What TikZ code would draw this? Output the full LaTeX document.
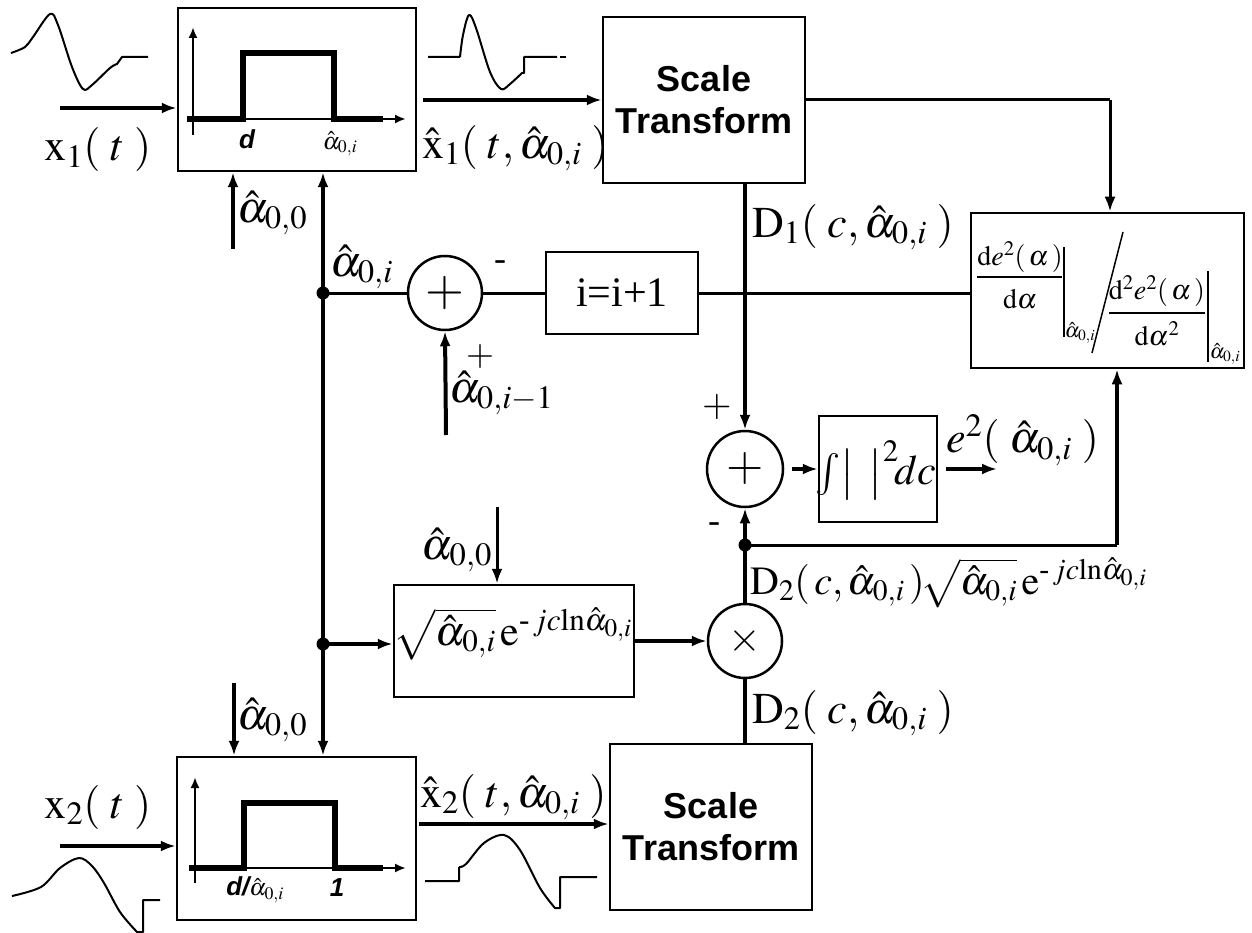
\documentclass[tikz,border=0pt]{standalone}
\usepackage{amsmath}
\usepackage{mathptmx}
\usepackage[no-math]{fontspec}
\setmainfont{Liberation Serif}
\setsansfont{Liberation Sans}
\usetikzlibrary{arrows.meta}
\newcommand{\fs}[1]{\fontsize{#1}{#1}\selectfont}
\begin{document}
\begin{tikzpicture}[x=1pt,y=-1pt,
  box/.style={draw,line width=2.5pt,inner sep=0},
  circ/.style={draw,circle,line width=2.5pt,inner sep=0},
  conn/.style={line width=3pt},
  thk/.style={line width=4pt},
  arr/.style={-{Latex[length=15pt,width=11pt]}},
  sarr/.style={-{Latex[length=11pt,width=9pt]}},
  wave/.style={line width=2pt,line join=round},
  pulse/.style={line width=6pt},
  lbl/.style={inner sep=0,font=\fs{44}},
  dlbl/.style={inner sep=0,font=\fs{28}},
  slbl/.style={inner sep=0,font=\fs{21}},
  thin/.style={line width=1.5pt},
  dotc/.style={circle,fill,inner sep=0,minimum size=13pt}]
\useasboundingbox (0,0) rectangle (1252,933);

% ---------- blocks ----------
\node[box,minimum width=238,minimum height=163] (F1) at (297,89.5) {};
\node[box,minimum width=202,minimum height=166,align=center,font=\sffamily\bfseries\fs{36}] (ST1) at (704,100) {Scale\\[6pt]Transform};
\node[box,minimum width=273,minimum height=155] (DV) at (1107.5,290.5) {};
\node[box,minimum width=152,minimum height=82,font=\fs{42}] (INC) at (622,293) {i=i+1};
\node[circ,minimum size=74,font=\fs{50}] (S1) at (445,293) {$+$};
\node[circ,minimum size=76,font=\fs{48}] (S2) at (745,469) {$+$};
\node[box,minimum width=118,minimum height=106] (INT) at (878,469) {};
\node[inner sep=0,font=\fs{42}] (INTT) at (876,470) {$\int\!\big|\;\,\big|^2\!dc$};
\node[circ,minimum size=74,font=\fs{42}] (M) at (745,641) {$\times$};
\node[box,minimum width=240,minimum height=112] (SQ) at (514,641) {};
\node[inner sep=0,font=\fs{42}] (SQT) at (513,634) {$\sqrt{\hat\alpha_{0,i}}\,\mathrm{e}^{\text{-}\,jc\mathrm{ln}\hat\alpha_{0,i}}$};
\node[box,minimum width=239,minimum height=163] (F2) at (296.5,838.5) {};
\node[box,minimum width=202,minimum height=166,align=center,font=\sffamily\bfseries\fs{36}] (ST2) at (711,827) {Scale\\[6pt]Transform};

% ---------- derivative expression ----------
\node[dlbl] (N1) at (1020,257) {$\mathrm{d}e^2(\,\alpha\,)$};
\node[dlbl] (D1d) at (1020,299) {$\mathrm{d}\alpha$};
\draw[thin] (977,277) -- (1062,277);
\draw[thin] (1064,247) -- (1064,337);
\node[slbl] (B1) at (1080,333) {$\hat\alpha_{0,i}$};
\draw[thin] (1123,232) -- (1092,353);
\node[dlbl] (N2) at (1157,291) {$\mathrm{d}^2e^2(\,\alpha\,)$};
\node[dlbl] (D2d) at (1157,334) {$\mathrm{d}\alpha^2$};
\draw[thin] (1109,313) -- (1205,313);
\draw[thin] (1208,271) -- (1208,362);
\node[slbl] (B2) at (1225,354) {$\hat\alpha_{0,i}$};

% ---------- filter 1 interior ----------
\coordinate (F1y0) at (193,135); \coordinate (F1y1) at (193,27);
\coordinate (F1x0) at (187,119); \coordinate (F1x1) at (406,119);
\draw[line width=2.5pt,sarr] (F1y0) -- (F1y1);
\draw[line width=2.5pt,sarr] (F1x0) -- (F1x1);
\draw[pulse] (187,119) -- (243,119) -- (243,53) -- (334,53) -- (334,119) -- (383,119);
\node[inner sep=0,font=\sffamily\bfseries\itshape\fs{26}] (F1d) at (247,139) {d};
\node[inner sep=0,font=\fs{24}] (F1a) at (340,144) {$\hat\alpha_{0,i}$};

% ---------- filter 2 interior ----------
\coordinate (F2y0) at (195,883); \coordinate (F2y1) at (195,777);
\coordinate (F2x0) at (189,868); \coordinate (F2x1) at (406,868);
\draw[line width=2.5pt,sarr] (F2y0) -- (F2y1);
\draw[line width=2.5pt,sarr] (F2x0) -- (F2x1);
\draw[pulse] (189,868) -- (244,868) -- (244,803) -- (335,803) -- (335,868) -- (383,868);
\node[inner sep=0,font=\fs{24}] (F2d) at (255,890) {{\sffamily\bfseries\itshape\fs{26}d/}$\hat\alpha_{0,i}$};
\node[inner sep=0,font=\sffamily\bfseries\itshape\fs{26}] (F2one) at (337,888) {1};

% ---------- waveforms ----------
\draw[wave] plot[smooth,tension=0.55] coordinates {(11,53) (25,47) (33,37) (50,14) (58,25) (72,67) (83,89) (92,85) (110,68) (117,64)} -- (122,57) -- (148,57);
\draw[wave] (428,57) -- (460,57) plot[smooth,tension=0.55] coordinates {(460,57) (463,35) (469,15) (476,28) (490,72) (501,89) (510,84) (522,73)} -- (524,73) -- (524,57) -- (557,57);
\draw[wave] (560,57) -- (566,57);
\draw[wave] plot[smooth,tension=0.55] coordinates {(12,896) (41,887) (60,868) (79,858) (92,866) (104,883) (120,912) (137,932)} -- (143,932) -- (143,900) -- (160,900);
\draw[wave] (425,881) -- (459,881) -- (459,867) plot[smooth,tension=0.55] coordinates {(459,867) (466,864) (484,843) (504,835) (520,850) (540,888) (555,908)} -- (560,908) -- (560,877) -- (597,877);

% ---------- coordinates ----------
\coordinate (dot1) at (323,293);
\coordinate (dot3) at (323,644);
\coordinate (dot2) at (745,545);
\coordinate (in1) at (60,108);
\coordinate (out1) at (423,100);
\coordinate (in2) at (60,846);
\coordinate (out2) at (419,824);
\coordinate (a00a) at (233,249);
\coordinate (a00b) at (497,507);
\coordinate (a00c) at (234,683);
\coordinate (aim1) at (446,435);
\coordinate (c1) at (1110,100);
\coordinate (c2) at (1117,545);
\coordinate (e2end) at (997,469);

% ---------- connectors ----------
\draw[thk,arr] (in1) -- (in1 -| F1.west);
\draw[thk,arr] (out1) -- (out1 -| ST1.west);
\draw[thk,arr] (in2) -- (in2 -| F2.west);
\draw[thk,arr] (out2) -- (out2 -| ST2.west);
\draw[thk,arr] (a00a) -- (a00a |- F1.south);
\draw[thk,arr] (a00c) -- (a00c |- F2.north);
\draw[conn,arr] (a00b) -- (a00b |- SQ.north);
\draw[thk,arr] (aim1) -- (S1.south);
\draw[thk,arr] (dot3) -- (dot1 |- F1.south);
\draw[thk,arr] (dot1) -- (dot3 |- F2.north);
\draw[conn] (dot1) -- (S1.west);
\draw[conn] (S1.east) -- (INC.west);
\draw[conn] (INC.east) -- (INC.east -| DV.west);
\draw[thk,arr] (dot3) -- (dot3 -| SQ.west);
\draw[conn] (ST1.east |- c1) -- (c1);
\draw[conn,arr] (c1) -- (c1 |- DV.north);
\draw[thk,arr] (ST1.south -| S2.north) -- (S2.north);
\draw[thk,arr] (S2.east) ++(8,0) -- (INT.west);
\draw[thk,arr] (INT.east) ++(8,0) -- (e2end);
\draw[thk,arr] (dot2) -- (S2.south);
\draw[conn] (dot2) -- (c2);
\draw[thk,arr] (c2) -- (c2 |- DV.south);
\draw[thk] (M.north) -- (dot2);
\draw[thk,arr] (SQ.east) -- (M.west);
\draw[thk] (M.south) -- (M.south |- ST2.north);
\node[dotc] at (dot1) {};
\node[dotc] at (dot2) {};
\node[dotc] at (dot3) {};

% ---------- labels ----------
\node[lbl] (Lx1) at (98,150) {$\mathrm{x}_1(\;t\;)$};
\node[lbl,anchor=west] (Lxh1) at (422,148) {$\hat{\mathrm{x}}_1(\;t,\hat\alpha_{0,i}\;)$};
\node[lbl,anchor=west] (La00a) at (237,213) {$\hat\alpha_{0,0}$};
\node[lbl,anchor=west] (Lai) at (330,267) {$\hat\alpha_{0,i}$};
\node[inner sep=0,font=\fs{36}] (Lm1) at (500,266) {-};
\node[lbl,anchor=west] (Laim1) at (449,393) {$\hat\alpha_{0,i-1}$};
\node[inner sep=0,font=\fs{36}] (Lp1) at (480,357) {$+$};
\node[lbl,anchor=west] (LD1) at (752,227) {$\mathrm{D}_1(\;c,\hat\alpha_{0,i}\;)$};
\node[inner sep=0,font=\fs{38}] (Lp2) at (717,407) {$+$};
\node[inner sep=0,font=\fs{36}] (Lm2) at (714,528) {-};
\node[lbl,anchor=west] (Le2) at (946,440) {$e^2(\;\hat\alpha_{0,i}\;)$};
\node[inner sep=0,font=\fs{40},anchor=west] (LD2s) at (750,583) {$\mathrm{D}_2(\,c,\hat\alpha_{0,i}\,)\!\sqrt{\hat\alpha_{0,i}}\,\mathrm{e}^{\text{-}\,jc\mathrm{ln}\hat\alpha_{0,i}}$};
\node[lbl,anchor=east] (La00b) at (492,550) {$\hat\alpha_{0,0}$};
\node[lbl,anchor=west] (LD2) at (752,713) {$\mathrm{D}_2(\;c,\hat\alpha_{0,i}\;)$};
\node[lbl,anchor=west] (La00c) at (237,720) {$\hat\alpha_{0,0}$};
\node[lbl] (Lx2) at (98,807) {$\mathrm{x}_2(\;t\;)$};
\node[lbl,anchor=west] (Lxh2) at (420,797) {$\hat{\mathrm{x}}_2(\;t,\hat\alpha_{0,i}\;)$};
\end{tikzpicture}
\end{document}
